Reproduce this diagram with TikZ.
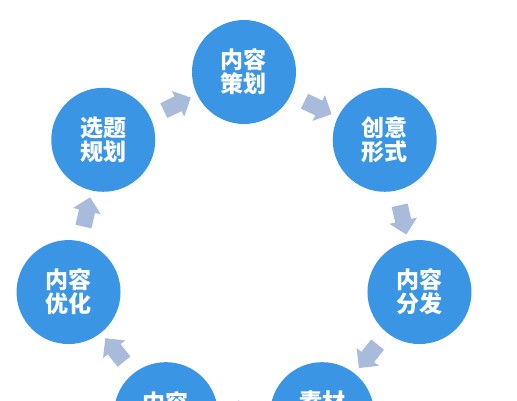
\documentclass[tikz,border=0pt]{standalone}
\usepackage{fontspec}
\newfontfamily\cjk{Noto Sans CJK SC}
\usetikzlibrary{shapes.arrows}
\definecolor{stageblue}{RGB}{58,150,228}
\definecolor{flowgray}{RGB}{168,187,218}
\tikzset{
  stage/.style={circle,fill=stageblue,minimum size=104pt,inner sep=0pt,
    text=white,align=center,font=\cjk\bfseries\fontsize{23}{24}\selectfont},
  flow/.style={single arrow,fill=flowgray,inner sep=8pt,minimum height=30pt,
    single arrow head extend=6pt,sloped,allow upside down}
}
\begin{document}
\begin{tikzpicture}[x=1pt,y=1pt]
  \useasboundingbox (-244,-148) rectangle (273,252);
  \clip (-244,-148) rectangle (273,252);
  % stages round the cycle
  \foreach \txt [count=\i from 0] in {内容\\策划,创意\\形式,内容\\分发,
      素材\\\phantom{素材},内容\\\phantom{内容},内容\\优化,选题\\规划}
    \node[stage] (c\i) at ({90-\i*360/7}:180) {\txt};
  % arrows between them
  \foreach \i [evaluate=\i as \j using {int(mod(\i+1,7))}] in {0,...,6}
    \path (c\i) -- node[flow] {} (c\j);
\end{tikzpicture}
\end{document}
